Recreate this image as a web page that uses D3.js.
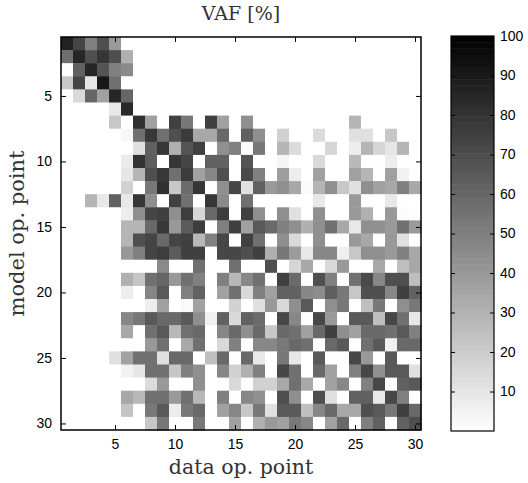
<!DOCTYPE html>
<html>
<head>
<meta charset="utf-8">
<script src="https://cdn.jsdelivr.net/npm/d3@7"></script>
<style>
body { margin: 0; background: #fff; }
.tick text { font-family: "Liberation Sans", Arial, sans-serif; font-size: 14px; fill: #000; }
.lbl { font-family: "DejaVu Serif", "Liberation Serif", serif; fill: #333; }
</style>
</head>
<body>
<svg id="chart" width="528" height="483"></svg>
<script>
// data op. point (columns) and model op. point (rows)
var dataOp = d3.range(1, 31);
var modelOp = d3.range(1, 31);
var xTicks = [5, 10, 15, 20, 25, 30];
var yTicks = [5, 10, 15, 20, 25, 30];
var cbTicks = [10, 20, 30, 40, 50, 60, 70, 80, 90, 100];

// VAF [%], one row per model op. point
var vafRows = [
 [87,73,50,69,40,0,0,0,0,0,0,0,0,0,0,0,0,0,0,0,0,0,0,0,0,0,0,0,0,0],
 [56,85,69,79,69,31,0,0,0,0,0,0,0,0,0,0,0,0,0,0,0,0,0,0,0,0,0,0,0,0],
 [0,62,85,67,50,46,0,0,0,0,0,0,0,0,0,0,0,0,0,0,0,0,0,0,0,0,0,0,0,0],
 [22,73,10,91,56,0,0,0,0,0,0,0,0,0,0,0,0,0,0,0,0,0,0,0,0,0,0,0,0,0],
 [0,15,60,37,85,60,0,0,0,0,0,0,0,0,0,0,0,0,0,0,0,0,0,0,0,0,0,0,0,0],
 [0,0,0,0,9,84,0,0,0,0,0,0,0,0,0,0,0,0,0,0,0,0,0,0,0,0,0,0,0,0],
 [0,0,0,0,22,0,81,37,0,75,53,0,75,37,0,44,0,0,0,0,0,0,0,0,29,0,0,0,0,0],
 [0,0,0,0,0,3,56,78,56,69,77,34,34,59,0,62,44,0,18,0,0,14,0,0,12,12,0,22,0,0],
 [0,0,0,0,0,0,12,62,79,31,67,75,0,44,50,1,53,0,29,14,0,0,16,0,7,29,16,10,29,0],
 [0,0,0,0,0,8,80,63,0,79,73,0,62,62,0,67,0,0,4,0,0,15,0,0,28,0,0,7,0,0],
 [0,0,0,0,0,10,29,69,78,56,77,37,47,69,0,71,50,0,38,7,0,37,0,0,37,29,0,37,5,0],
 [0,0,0,0,0,18,0,53,81,22,58,79,0,44,72,12,62,40,44,34,2,29,44,22,12,44,37,34,50,34],
 [0,0,29,9,62,9,79,44,0,75,56,0,79,46,0,56,0,0,0,0,0,9,0,0,40,0,0,9,0,0],
 [0,0,0,0,0,7,44,73,75,44,76,16,59,76,0,75,44,0,44,12,0,44,0,0,40,31,0,40,1,0],
 [0,0,0,0,0,29,29,59,78,40,64,76,0,50,75,37,65,59,50,44,31,44,56,34,9,44,44,40,56,40],
 [0,0,0,0,0,29,69,73,59,73,75,28,50,72,0,75,56,0,44,15,0,44,0,0,40,34,0,40,12,0],
 [0,0,0,0,0,40,50,73,76,64,75,75,0,72,72,69,75,31,53,39,9,47,47,6,22,44,44,40,50,34],
 [0,0,0,0,0,0,0,0,46,0,0,56,0,0,56,0,0,69,0,16,34,0,15,40,0,0,34,0,25,34],
 [0,0,0,0,0,31,23,56,60,40,56,50,0,50,28,47,56,0,75,58,0,69,50,0,56,71,47,69,69,25],
 [0,0,0,0,0,7,0,48,65,0,50,62,0,37,56,15,50,37,62,62,47,45,63,53,22,69,69,47,75,62],
 [0,0,0,0,0,0,0,7,37,0,2,37,0,0,18,0,12,40,15,44,65,0,44,53,0,25,53,0,44,53],
 [0,0,0,0,0,47,53,65,59,59,65,44,6,62,15,62,58,0,72,47,0,72,40,0,65,65,25,72,56,9],
 [0,0,0,0,0,34,0,56,65,28,56,59,0,47,59,44,59,22,59,56,37,59,75,44,37,59,59,56,65,50],
 [0,0,0,0,0,0,0,40,56,0,34,56,0,15,50,0,47,47,53,59,56,0,59,65,0,56,65,6,59,59],
 [0,0,0,0,12,37,56,56,12,59,59,0,25,59,0,59,9,0,53,9,0,65,0,0,72,40,0,65,0,0],
 [0,0,0,0,0,5,10,56,56,22,50,44,0,47,18,31,50,0,72,56,0,59,37,0,50,72,44,65,65,12],
 [0,0,0,0,0,0,0,14,40,0,0,44,0,0,15,0,18,18,34,56,34,0,37,47,0,50,72,0,62,65],
 [0,0,0,0,0,34,28,56,56,40,56,28,0,50,0,47,44,0,69,44,0,69,12,0,62,62,9,72,50,0],
 [0,0,0,0,0,23,0,53,65,7,53,59,0,37,47,22,53,12,65,65,25,47,59,34,34,69,65,53,75,59],
 [0,0,0,0,0,0,0,22,53,0,0,53,0,0,37,0,31,40,37,53,47,0,37,59,0,50,62,0,62,69]
];

var svg = d3.select("#chart");
var plot = { left: 61, top: 37, width: 360, height: 393 };
var cb = { left: 451, top: 36, width: 43, height: 395 };

var x = d3.scaleBand().domain(dataOp).range([plot.left, plot.left + plot.width]);
var y = d3.scaleBand().domain(modelOp).range([plot.top, plot.top + plot.height]);
var color = d3.scaleLinear().domain([0, 100]).range(["#ffffff", "#000000"]).clamp(true);

// cells
var cells = [];
vafRows.forEach(function(row, i) {
	row.forEach(function(v, j) {
		cells.push({ r: modelOp[i], c: dataOp[j], v: v });
	});
});
svg.append("g").selectAll("rect").data(cells).enter().append("rect")
	.attr("x", function(d) { return x(d.c); })
	.attr("y", function(d) { return y(d.r); })
	.attr("width", x.bandwidth() + 0.5)
	.attr("height", y.bandwidth() + 0.5)
	.attr("fill", function(d) { return color(d.v); });

// axes: linear scales placed on cell centres
var xl = d3.scaleLinear().domain([0.5, 30.5]).range([plot.left, plot.left + plot.width]);
var yl = d3.scaleLinear().domain([0.5, 30.5]).range([plot.top, plot.top + plot.height]);

svg.append("g").attr("transform", "translate(0," + (plot.top + plot.height) + ")")
	.call(d3.axisBottom(xl).tickValues(xTicks).tickSize(-5).tickPadding(9))
	.call(function(g) { g.select(".domain").remove(); });
svg.append("g").attr("transform", "translate(0," + plot.top + ")")
	.call(d3.axisTop(xl).tickValues(xTicks).tickSize(-5).tickFormat(""))
	.call(function(g) { g.select(".domain").remove(); });
svg.append("g").attr("transform", "translate(" + plot.left + ",0)")
	.call(d3.axisLeft(yl).tickValues(yTicks).tickSize(-5).tickPadding(9))
	.call(function(g) { g.select(".domain").remove(); });
svg.append("g").attr("transform", "translate(" + (plot.left + plot.width) + ",0)")
	.call(d3.axisRight(yl).tickValues(yTicks).tickSize(-5).tickFormat(""))
	.call(function(g) { g.select(".domain").remove(); });

svg.append("rect")
	.attr("x", plot.left).attr("y", plot.top)
	.attr("width", plot.width).attr("height", plot.height)
	.attr("fill", "none").attr("stroke", "#000").attr("stroke-width", 1.5);

// colorbar
var cbScale = d3.scaleLinear().domain([0, 100]).range([cb.top + cb.height, cb.top]);
var steps = d3.range(0, 100, 100 / 64);
svg.append("g").selectAll("rect").data(steps).enter().append("rect")
	.attr("x", cb.left)
	.attr("y", function(d) { return cbScale(d + 100 / 64); })
	.attr("width", cb.width)
	.attr("height", cbScale(0) - cbScale(100 / 64) + 0.5)
	.attr("fill", function(d) { return color(d + 50 / 64); });

svg.append("g").attr("transform", "translate(" + (cb.left + cb.width) + ",0)")
	.call(d3.axisRight(cbScale).tickValues(cbTicks).tickSize(-4).tickPadding(6))
	.call(function(g) { g.select(".domain").remove(); });
svg.append("g").attr("transform", "translate(" + cb.left + ",0)")
	.call(d3.axisLeft(cbScale).tickValues(cbTicks).tickSize(-4).tickFormat(""))
	.call(function(g) { g.select(".domain").remove(); });
svg.append("rect")
	.attr("x", cb.left).attr("y", cb.top)
	.attr("width", cb.width).attr("height", cb.height)
	.attr("fill", "none").attr("stroke", "#000").attr("stroke-width", 1.2);

// labels
svg.append("text").attr("class", "lbl")
	.attr("x", plot.left + plot.width / 2).attr("y", 20)
	.attr("text-anchor", "middle").attr("font-size", 19)
	.text("VAF [%]");
svg.append("text").attr("class", "lbl")
	.attr("x", plot.left + plot.width / 2).attr("y", 474)
	.attr("text-anchor", "middle").attr("font-size", 20.5)
	.text("data op. point");
svg.append("text").attr("class", "lbl")
	.attr("transform", "translate(24," + (plot.top + plot.height / 2) + ") rotate(-90)")
	.attr("text-anchor", "middle").attr("font-size", 21)
	.text("model op. point");
</script>
</body>
</html>
